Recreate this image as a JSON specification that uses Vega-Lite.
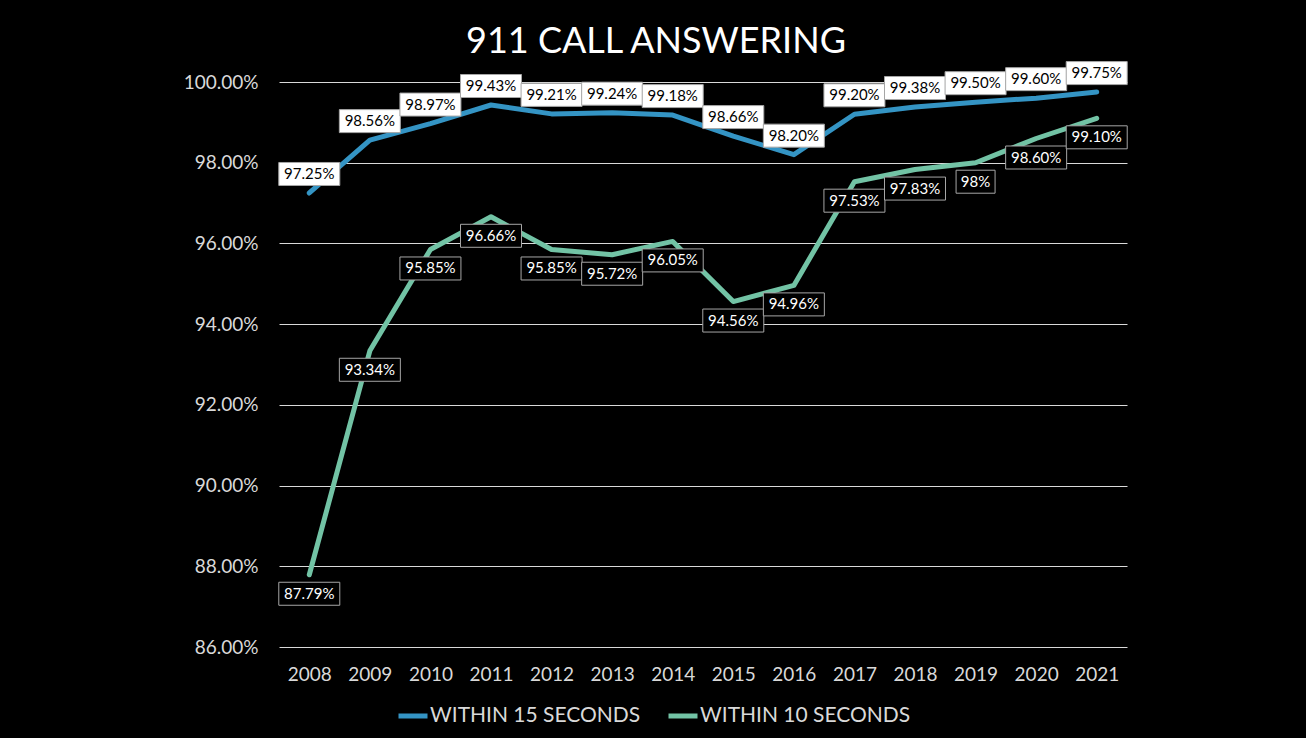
{
  "$schema": "https://vega.github.io/schema/vega-lite/v6.json",
  "width": 848,
  "height": 565,
  "autosize": {"type": "none"},
  "padding": {"left": 279, "top": 82, "right": 179, "bottom": 91},
  "background": "#000000",
  "title": {
    "text": "911 CALL ANSWERING",
    "fontSize": 36,
    "font": "Lato",
    "fontWeight": "normal",
    "color": "#ffffff",
    "anchor": "middle",
    "dx": -47,
    "offset": 0
  },
  "config": {
    "view": {"stroke": null},
    "font": "Lato"
  },
  "data": {
    "values": [
      {"year": "2008", "series": "WITHIN 15 SECONDS", "value": 0.9725, "label": "97.25%"},
      {"year": "2009", "series": "WITHIN 15 SECONDS", "value": 0.9856, "label": "98.56%"},
      {"year": "2010", "series": "WITHIN 15 SECONDS", "value": 0.9897, "label": "98.97%"},
      {"year": "2011", "series": "WITHIN 15 SECONDS", "value": 0.9943, "label": "99.43%"},
      {"year": "2012", "series": "WITHIN 15 SECONDS", "value": 0.9921, "label": "99.21%"},
      {"year": "2013", "series": "WITHIN 15 SECONDS", "value": 0.9924, "label": "99.24%"},
      {"year": "2014", "series": "WITHIN 15 SECONDS", "value": 0.9918, "label": "99.18%"},
      {"year": "2015", "series": "WITHIN 15 SECONDS", "value": 0.9866, "label": "98.66%"},
      {"year": "2016", "series": "WITHIN 15 SECONDS", "value": 0.9820, "label": "98.20%"},
      {"year": "2017", "series": "WITHIN 15 SECONDS", "value": 0.9920, "label": "99.20%"},
      {"year": "2018", "series": "WITHIN 15 SECONDS", "value": 0.9938, "label": "99.38%"},
      {"year": "2019", "series": "WITHIN 15 SECONDS", "value": 0.9950, "label": "99.50%"},
      {"year": "2020", "series": "WITHIN 15 SECONDS", "value": 0.9960, "label": "99.60%"},
      {"year": "2021", "series": "WITHIN 15 SECONDS", "value": 0.9975, "label": "99.75%"},
      {"year": "2008", "series": "WITHIN 10 SECONDS", "value": 0.8779, "label": "87.79%"},
      {"year": "2009", "series": "WITHIN 10 SECONDS", "value": 0.9334, "label": "93.34%"},
      {"year": "2010", "series": "WITHIN 10 SECONDS", "value": 0.9585, "label": "95.85%"},
      {"year": "2011", "series": "WITHIN 10 SECONDS", "value": 0.9666, "label": "96.66%"},
      {"year": "2012", "series": "WITHIN 10 SECONDS", "value": 0.9585, "label": "95.85%"},
      {"year": "2013", "series": "WITHIN 10 SECONDS", "value": 0.9572, "label": "95.72%"},
      {"year": "2014", "series": "WITHIN 10 SECONDS", "value": 0.9605, "label": "96.05%"},
      {"year": "2015", "series": "WITHIN 10 SECONDS", "value": 0.9456, "label": "94.56%"},
      {"year": "2016", "series": "WITHIN 10 SECONDS", "value": 0.9496, "label": "94.96%"},
      {"year": "2017", "series": "WITHIN 10 SECONDS", "value": 0.9753, "label": "97.53%"},
      {"year": "2018", "series": "WITHIN 10 SECONDS", "value": 0.9783, "label": "97.83%"},
      {"year": "2019", "series": "WITHIN 10 SECONDS", "value": 0.9800, "label": "98%"},
      {"year": "2020", "series": "WITHIN 10 SECONDS", "value": 0.9860, "label": "98.60%"},
      {"year": "2021", "series": "WITHIN 10 SECONDS", "value": 0.9910, "label": "99.10%"}
    ]
  },
  "encoding": {
    "x": {
      "field": "year",
      "type": "ordinal",
      "scale": {"type": "point", "padding": 0.5},
      "axis": {
        "title": null,
        "labelAngle": 0,
        "labelFontSize": 19,
        "labelColor": "#d9d9d9",
        "labelPadding": 18,
        "domain": false,
        "ticks": false,
        "grid": false
      }
    },
    "y": {
      "field": "value",
      "type": "quantitative",
      "scale": {"domain": [0.86, 1.0], "nice": false, "zero": false},
      "axis": {
        "title": null,
        "values": [0.86, 0.88, 0.9, 0.92, 0.94, 0.96, 0.98, 1.0],
        "format": ".2%",
        "labelFontSize": 19,
        "labelColor": "#d9d9d9",
        "labelPadding": 21,
        "domain": false,
        "ticks": false,
        "grid": true,
        "gridColor": "#d9d9d9",
        "gridWidth": 1
      }
    }
  },
  "layer": [
    {
      "mark": {"type": "line", "strokeWidth": 5, "strokeCap": "round", "strokeJoin": "round"},
      "encoding": {
        "color": {
          "field": "series",
          "type": "nominal",
          "scale": {
            "domain": ["WITHIN 15 SECONDS", "WITHIN 10 SECONDS"],
            "range": ["#3494c4", "#72c3a5"]
          },
          "legend": {
            "title": null,
            "orient": "none",
            "direction": "horizontal",
            "legendX": 117,
            "legendY": 617,
            "symbolType": "stroke",
            "symbolStrokeWidth": 5,
            "symbolSize": 841,
            "labelFontSize": 21,
            "labelColor": "#d9d9d9",
            "labelLimit": 400,
            "labelOffset": 0,
            "columnPadding": 17
          }
        }
      }
    },
    {
      "transform": [{"filter": "datum.series === 'WITHIN 15 SECONDS'"}],
      "mark": {"type": "rect", "width": 61, "height": 23, "yOffset": -19, "fill": "#ffffff", "stroke": "#a6a6a6", "strokeWidth": 1}
    },
    {
      "transform": [{"filter": "datum.series === 'WITHIN 10 SECONDS' && datum.label !== '98%'"}],
      "mark": {"type": "rect", "width": 61, "height": 23, "yOffset": 19, "fill": "#000000", "stroke": "#a6a6a6", "strokeWidth": 1}
    },
    {
      "transform": [{"filter": "datum.label === '98%'"}],
      "mark": {"type": "rect", "width": 39, "height": 23, "yOffset": 19, "fill": "#000000", "stroke": "#a6a6a6", "strokeWidth": 1}
    },
    {
      "transform": [{"filter": "datum.series === 'WITHIN 15 SECONDS'"}],
      "mark": {"type": "text", "fontSize": 15, "dy": -19, "baseline": "middle", "align": "center", "fill": "#000000"},
      "encoding": {"text": {"field": "label"}}
    },
    {
      "transform": [{"filter": "datum.series === 'WITHIN 10 SECONDS'"}],
      "mark": {"type": "text", "fontSize": 15, "dy": 19, "baseline": "middle", "align": "center", "fill": "#ffffff"},
      "encoding": {"text": {"field": "label"}}
    }
  ]
}
